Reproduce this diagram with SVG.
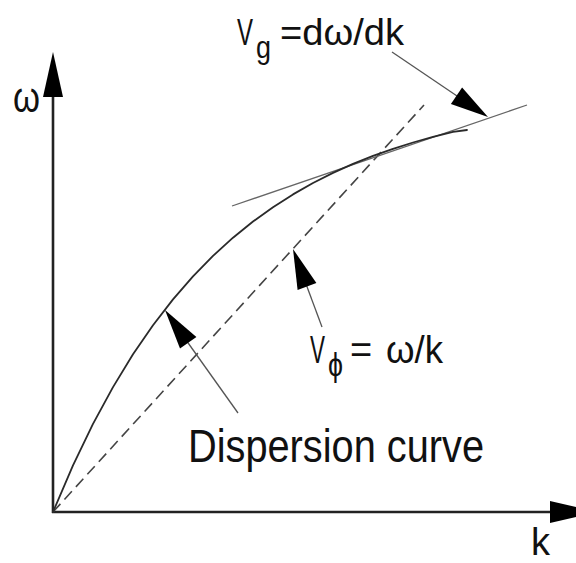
<svg xmlns="http://www.w3.org/2000/svg" width="576" height="563" viewBox="0 0 576 563">
<style>
  .lbl { font-family: "Liberation Sans", Arial, "DejaVu Sans", sans-serif; fill: #111; }
  .axis { stroke: #222; stroke-width: 2.6; fill: none; }
  .curve { stroke: #2a2a2a; stroke-width: 1.8; fill: none; stroke-linejoin: round; stroke-linecap: round; }
  .tangent { stroke: #666; stroke-width: 1.3; fill: none; }
  .phase { stroke: #444; stroke-width: 1.6; fill: none; stroke-dasharray: 11 6; }
  .leader { stroke: #555; stroke-width: 1.3; fill: none; }
  .head { fill: #000; stroke: none; }
</style>
<rect width="576" height="563" fill="#fff"/>

<g id="axes">
  <line class="axis" x1="53" y1="513" x2="53" y2="95"/>
  <polygon class="head" points="53,52 43,97 63,97"/>
  <line class="axis" x1="52" y1="512" x2="552" y2="512"/>
  <polygon class="head" points="550,501 550,523 598,512"/>
</g>

<g id="phase-line">
  <line class="phase" x1="53" y1="512" x2="424" y2="105"/>
</g>

<g id="tangent-line">
  <line class="tangent" x1="232" y1="206" x2="527" y2="105"/>
</g>

<g id="dispersion-curve">
  <path class="curve" d="M53,512 L73,465.4 L93,423.9 L113,387.1 L133,354.3 L153,325.2 L173,299.4 L193,276.3 L213,255.9 L233,237.7 L253,221.5 L273,207.2 L293,194.4 L313,183 L333,172.9 L353,163.9 L373,155.9 L393,148.8 L413,142.5 L433,136.9 L453,131.9 L467,130"/>
</g>

<g id="connectors">
  <line class="leader" x1="392" y1="52" x2="460" y2="98"/>
  <polygon class="head" points="488,117 450.9,104 462.1,87.4"/>
  <line class="leader" x1="322" y1="327" x2="306" y2="284"/>
  <polygon class="head" points="293,249 316.4,283 297.6,290"/>
  <line class="leader" x1="238" y1="413" x2="186" y2="340"/>
  <polygon class="head" points="165,310 196.4,336.9 180,348.5"/>
</g>

<g id="label-omega">
  <text class="lbl" x="13" y="112" font-size="42" textLength="27" lengthAdjust="spacingAndGlyphs">ω</text>
</g>
<g id="label-k">
  <text class="lbl" x="531" y="555" font-size="39" textLength="19" lengthAdjust="spacingAndGlyphs">k</text>
</g>
<g id="label-vg">
  <text class="lbl" font-size="37"><tspan x="237" y="45" textLength="16" lengthAdjust="spacingAndGlyphs">V</tspan><tspan x="256" y="58" font-size="32" textLength="15" lengthAdjust="spacingAndGlyphs">g</tspan><tspan x="280" y="45" textLength="124" lengthAdjust="spacingAndGlyphs">=dω/dk</tspan></text>
</g>
<g id="label-vphi">
  <text class="lbl" font-size="38"><tspan x="310" y="363" font-size="39" textLength="15" lengthAdjust="spacingAndGlyphs">V</tspan><tspan x="328" y="376" font-size="34" textLength="15" lengthAdjust="spacingAndGlyphs">ϕ</tspan><tspan x="350" y="363">=</tspan><tspan x="386" y="363" textLength="57" lengthAdjust="spacingAndGlyphs">ω/k</tspan></text>
</g>
<g id="label-dispersion">
  <text class="lbl" x="188" y="462" font-size="46" textLength="296" lengthAdjust="spacingAndGlyphs">Dispersion curve</text>
</g>
</svg>
